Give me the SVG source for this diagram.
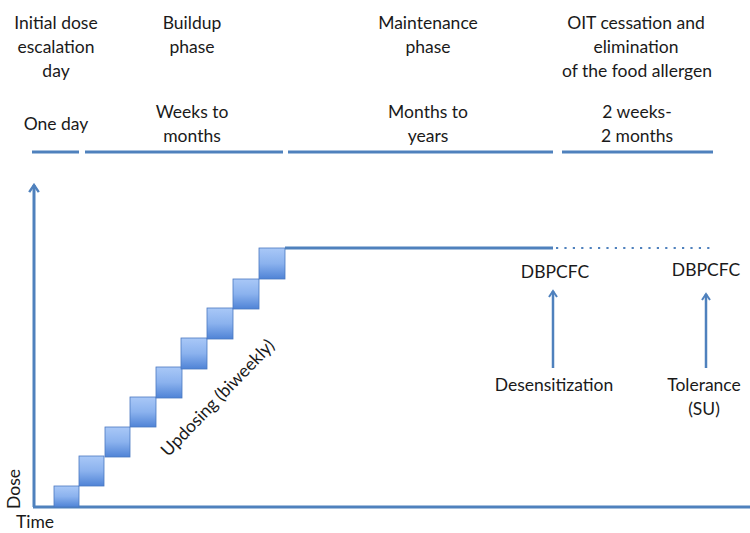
<svg xmlns="http://www.w3.org/2000/svg" width="750" height="533" viewBox="0 0 750 533">
<style>
text{font-family:"Lato","Open Sans","Liberation Sans",sans-serif;font-size:17.5px;fill:#1a1a1a;text-anchor:middle}
.ln{stroke:#4f81bd;stroke-width:3;fill:none}
.ax{stroke:#4f81bd;stroke-width:3;fill:none}
.arr{stroke:#4f81bd;stroke-width:2.5;fill:none}
.sq{fill:url(#g);stroke:#4a78c0;stroke-width:0.8}
</style>
<defs>
<linearGradient id="g" x1="0" y1="0" x2="0" y2="1">
<stop offset="0" stop-color="#a9c8f7"/>
<stop offset="0.5" stop-color="#8bb2ee"/>
<stop offset="1" stop-color="#4f83d6"/>
</linearGradient>
<marker id="ah" viewBox="0 0 10 10" refX="8" refY="5" markerWidth="4" markerHeight="4" orient="auto" markerUnits="strokeWidth">
<path d="M2,1 L8,5 L2,9" fill="none" stroke="#4f81bd" stroke-width="2"/>
</marker>
</defs>
<g id="headers">
<text x="56" y="29">Initial dose</text>
<text x="56" y="53">escalation</text>
<text x="56" y="77">day</text>
<text x="192" y="29">Buildup</text>
<text x="192" y="53">phase</text>
<text x="428" y="29">Maintenance</text>
<text x="428" y="53">phase</text>
<text x="636" y="29">OIT cessation and</text>
<text x="636" y="53">elimination</text>
<text x="637" y="77">of the food allergen</text>
<text x="56" y="130">One day</text>
<text x="192" y="118">Weeks to</text>
<text x="192" y="142">months</text>
<text x="428" y="118">Months to</text>
<text x="428" y="142">years</text>
<text x="637" y="118">2 weeks-</text>
<text x="637" y="142">2 months</text>
</g>
<g id="timeline">
<line class="ln" x1="32" y1="152" x2="79" y2="152"/>
<line class="ln" x1="85" y1="152" x2="283" y2="152"/>
<line class="ln" x1="288" y1="152" x2="553" y2="152"/>
<line class="ln" x1="562" y1="152" x2="713" y2="152"/>
</g>
<g id="axes">
<line class="ax" x1="34" y1="507" x2="34" y2="185" marker-end="url(#ah)"/>
<line class="ax" x1="33" y1="507" x2="750" y2="507"/>
<text x="20" y="489" transform="rotate(-90 20 489)">Dose</text>
<text x="35" y="528">Time</text>
</g>
<g id="steps">
<rect class="sq" x="54" y="486" width="25" height="21"/>
<rect class="sq" x="79" y="456" width="25" height="30"/>
<rect class="sq" x="105" y="427" width="25" height="30"/>
<rect class="sq" x="130" y="397" width="26" height="30"/>
<rect class="sq" x="156" y="367" width="26" height="31"/>
<rect class="sq" x="181" y="338" width="26" height="31"/>
<rect class="sq" x="207" y="308" width="26" height="31"/>
<rect class="sq" x="233" y="279" width="26" height="30"/>
<rect class="sq" x="259" y="248" width="26" height="31"/>
<text x="222" y="402" transform="rotate(-46 222 402)">Updosing (biweekly)</text>
</g>
<g id="connectors">
<line class="ln" x1="285" y1="248" x2="553" y2="248"/>
<line x1="556" y1="248" x2="710" y2="248" stroke="#4f81bd" stroke-width="2.2" stroke-dasharray="2.2 6.2"/>
<line class="arr" x1="553" y1="368" x2="553" y2="291" marker-end="url(#ah)"/>
<line class="arr" x1="706" y1="368" x2="706" y2="294" marker-end="url(#ah)"/>
</g>
<g id="desens">
<text x="555" y="278">DBPCFC</text>
<text x="554" y="391">Desensitization</text>
</g>
<g id="tolerance">
<text x="706" y="276">DBPCFC</text>
<text x="704" y="391">Tolerance</text>
<text x="704" y="415">(SU)</text>
</g>
</svg>
